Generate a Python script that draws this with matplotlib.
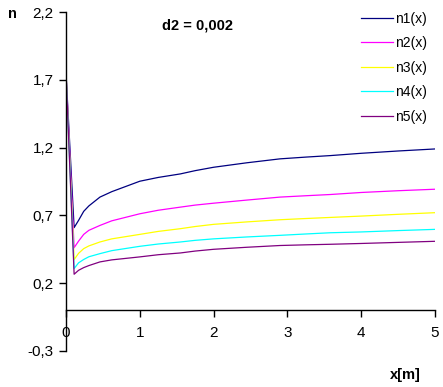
import matplotlib
matplotlib.use("Agg")
import matplotlib.pyplot as plt
from matplotlib.ticker import FuncFormatter

plt.rcParams['font.family'] = ['Liberation Sans', 'DejaVu Sans']

x = [0, 0.11, 0.17, 0.24, 0.31, 0.46, 0.62, 1.0, 1.25, 1.55, 1.75, 2.0, 2.45, 2.9, 3.25, 3.58, 4.0, 4.5, 5.0]
n1 = [1.75, 0.61, 0.663, 0.73, 0.77, 0.835, 0.875, 0.952, 0.98, 1.006, 1.03, 1.055, 1.088, 1.117, 1.13, 1.141, 1.158, 1.175, 1.19]
n2 = [1.75, 0.462, 0.51, 0.56, 0.59, 0.626, 0.66, 0.712, 0.738, 0.761, 0.776, 0.79, 0.813, 0.835, 0.845, 0.854, 0.869, 0.882, 0.893]
n3 = [1.75, 0.374, 0.42, 0.455, 0.475, 0.504, 0.527, 0.56, 0.582, 0.602, 0.618, 0.634, 0.652, 0.668, 0.677, 0.685, 0.695, 0.708, 0.72]
n4 = [1.75, 0.308, 0.35, 0.375, 0.395, 0.418, 0.44, 0.472, 0.489, 0.504, 0.516, 0.527, 0.541, 0.553, 0.563, 0.572, 0.578, 0.588, 0.597]
n5 = [1.75, 0.266, 0.295, 0.315, 0.33, 0.357, 0.372, 0.394, 0.41, 0.423, 0.437, 0.45, 0.465, 0.478, 0.483, 0.487, 0.493, 0.501, 0.509]
series = [n1, n2, n3, n4, n5]
labels = ["n1(x)", "n2(x)", "n3(x)", "n4(x)", "n5(x)"]
colors = ["#000080", "#FF00FF", "#FFFF00", "#00FFFF", "#800080"]
yticks = [-0.3, 0.2, 0.7, 1.2, 1.7, 2.2]
xticks = [0, 1, 2, 3, 4, 5]

fig = plt.figure(figsize=(4.43, 3.87), dpi=100)
ax = fig.add_axes([66/443, 1-351/387, (435-66)/443, (351-12)/387])

for s, lab, c in zip(series, labels, colors):
    ax.plot(x, s, color=c, lw=0.9, label=lab)

ax.set_xlim(0, 5)
ax.set_ylim(-0.3, 2.2)
ax.set_yticks(yticks)
ax.set_xticks(xticks)
ax.yaxis.set_major_formatter(FuncFormatter(lambda v, p: f"{v:.1f}".replace(".", ",")))
ax.xaxis.set_major_formatter(FuncFormatter(lambda v, p: f"{v:.0f}"))
ax.spines['top'].set_visible(False)
ax.spines['right'].set_visible(False)
ax.spines['bottom'].set_position(('data', 0))
ax.tick_params(axis='both', direction='out', length=5, width=1, labelsize=11, colors='black')
ax.tick_params(axis='x', pad=6)
ax.tick_params(axis='y', pad=4)
for sp in ['left', 'bottom']:
    ax.spines[sp].set_linewidth(1)

leg = ax.legend(loc='upper right', bbox_to_anchor=(1.0, 1.025), frameon=False,
                fontsize=10, handlelength=2.3, handletextpad=0.1,
                labelspacing=0.75, borderaxespad=0.2)

fig.text(8/443, 1-14/387, "n", fontsize=10.5, fontweight='bold', va='center', ha='left')
fig.text(405/443, 1-375/387, "x[m]", fontsize=10.5, fontweight='bold', va='center', ha='center')
fig.text(198/443, 1-25/387, "d2 = 0,002", fontsize=10.5, fontweight='bold', va='center', ha='center')

fig.savefig("out.png", dpi=100)
